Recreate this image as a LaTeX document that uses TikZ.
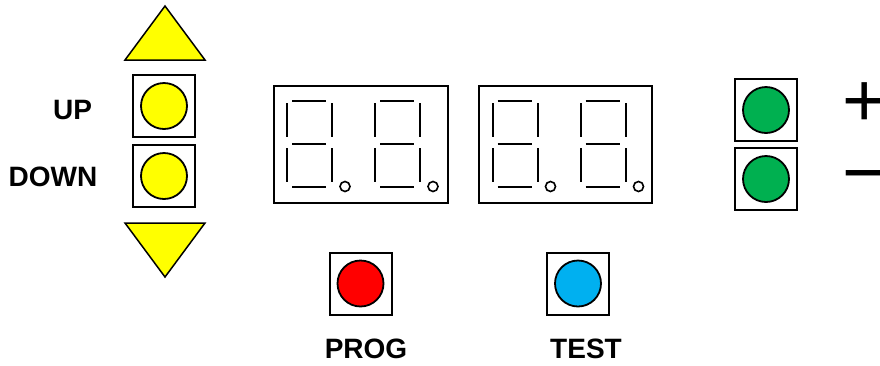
\documentclass[tikz,border=0pt]{standalone}
\usepackage{fontspec}
\setmainfont{Liberation Sans}
\definecolor{ledyellow}{HTML}{FFFF00}
\definecolor{ledgreen}{HTML}{00B050}
\definecolor{ledred}{HTML}{FF0000}
\definecolor{ledblue}{HTML}{00B0F0}
\begin{document}
\begin{tikzpicture}[x=1pt,y=-1pt,
  keybox/.style={draw=black,line width=2pt,minimum width=62pt,minimum height=62pt,inner sep=0pt},
  keycap/.style={draw=black,line width=1.8pt,circle,minimum size=46pt,inner sep=0pt},
  arrowkey/.style={draw=black,line width=1.5pt,fill=ledyellow,line join=miter},
  panel/.style={draw=black,line width=2pt},
  seg/.style={line width=2pt},
  dp/.style={draw=black,line width=1.6pt,circle,minimum size=10pt,inner sep=0pt},
  lbl/.style={font=\bfseries\fontsize{28}{28}\selectfont,inner sep=0pt},
  sign/.style={font=\fontsize{76}{76}\selectfont,inner sep=0pt}]
\useasboundingbox (0,0) rectangle (880,365);

% up / down arrows
\draw[arrowkey] (125,60) -- (165,6) -- (205,60) -- cycle;
\draw[arrowkey] (125,223) -- (205,223) -- (165,277) -- cycle;

% push buttons
\node[keybox] (kup) at (164,106) {};
\node[keycap,fill=ledyellow] (cup) at (kup.center) {};
\node[keybox] (kdown) at (164,176) {};
\node[keycap,fill=ledyellow] (cdown) at (kdown.center) {};
\node[keybox] (kplus) at (766,110) {};
\node[keycap,fill=ledgreen] (cplus) at (kplus.center) {};
\node[keybox] (kminus) at (766,179) {};
\node[keycap,fill=ledgreen] (cminus) at (kminus.center) {};
\node[keybox] (kprog) at (360.5,283.5) {};
\node[keycap,fill=ledred] (cprog) at (kprog.center) {};
\node[keybox] (ktest) at (578,283.5) {};
\node[keycap,fill=ledblue] (ctest) at (ktest.center) {};

% labels
\node[lbl] (tup) at (72.5,110) {UP};
\node[lbl] (tdown) at (53,177) {DOWN};
\node[lbl] (tprog) at (366,349) {PROG};
\node[lbl] (ttest) at (586,349) {TEST};
\node[sign] (tplus) at (865,105) {\vphantom{+}+};
\node[sign] (tminus) at (865,177) {\vphantom{+}−};

% seven-segment digit: left edge x, with decimal point
\newcommand{\digitat}[2]{%
  \draw[seg] (#1,103) -- (#1,137);
  \draw[seg] (#1+45,103) -- (#1+45,137);
  \draw[seg] (#1,148) -- (#1,182);
  \draw[seg] (#1+45,148) -- (#1+45,182);
  \draw[seg] (#1+5,100.5) -- (#1+39,100.5);
  \draw[seg] (#1+5,144) -- (#1+39,144);
  \draw[seg] (#1+5,186.5) -- (#1+39,186.5);
  \node[dp] (#2) at (#1+58,186.5) {};}

% displays
\draw[panel] (274,86) rectangle (448,203);
\draw[panel] (479,86) rectangle (652,203);
\digitat{287}{dpa}
\digitat{375}{dpb}
\digitat{492.5}{dpc}
\digitat{580.5}{dpd}
\end{tikzpicture}
\end{document}
